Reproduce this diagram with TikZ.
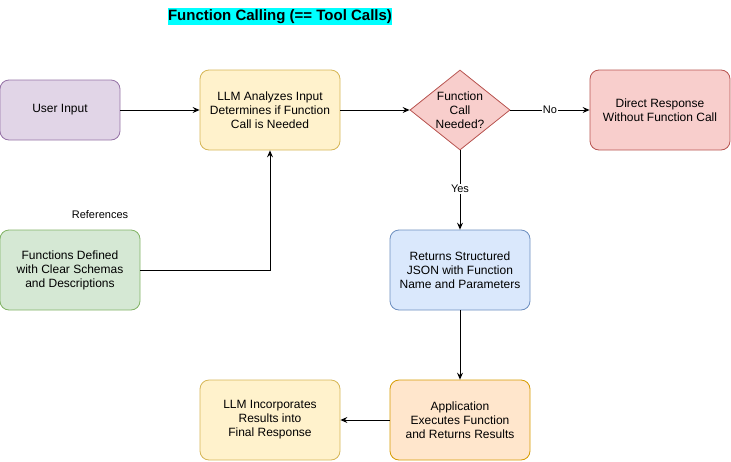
\documentclass[tikz,border=0pt]{standalone}
\usepackage{fontspec}
\setmainfont{Liberation Sans}
\usetikzlibrary{shapes.geometric,arrows.meta}
\definecolor{pfill}{HTML}{E1D5E7}\definecolor{pdraw}{HTML}{9673A6}
\definecolor{yfill}{HTML}{FFF2CC}\definecolor{ydraw}{HTML}{D6B656}
\definecolor{rfill}{HTML}{F8CECC}\definecolor{rdraw}{HTML}{B85450}
\definecolor{gfill}{HTML}{D5E8D4}\definecolor{gdraw}{HTML}{82B366}
\definecolor{bfill}{HTML}{DAE8FC}\definecolor{bdraw}{HTML}{6C8EBF}
\definecolor{ofill}{HTML}{FFE6CC}\definecolor{odraw}{HTML}{D79B00}
\definecolor{titlebg}{HTML}{00FFFF}
\begin{document}
\begin{tikzpicture}[x=1pt,y=-1pt,
  every node/.style={font=\fontsize{12}{14}\selectfont, align=center},
  box/.style={rectangle, rounded corners=9pt, line width=0.8pt, inner sep=0pt},
  wbox/.style={box, minimum width=140pt, minimum height=80pt},
  conn/.style={line width=0.9pt, -{Stealth[length=7pt,width=6pt,inset=2.5pt]}},
  lbl/.style={fill=white, inner sep=1pt, font=\fontsize{11}{13}\selectfont}]
\useasboundingbox (0,0) rectangle (731,461);
\node[fill=titlebg, inner sep=0pt, minimum width=224pt, minimum height=17pt, font=\fontsize{15}{17}\bfseries\selectfont] (title) at (280,16.5) {Function Calling (== Tool Calls)};
\node[box, fill=pfill, draw=pdraw, minimum width=120pt, minimum height=60pt] (user) at (60,110) {User Input};
\node[wbox, fill=yfill, draw=ydraw] (llm) at (270,110) {LLM Analyzes Input\\Determines if Function\\Call is Needed};
\node[diamond, aspect=1.25, fill=rfill, draw=rdraw, line width=0.8pt, minimum width=100pt, minimum height=80pt, inner sep=0pt] (dec) at (460,110) {Function\\Call\\Needed?};
\node[wbox, fill=rfill, draw=rdraw] (direct) at (660,110) {Direct Response\\Without Function Call};
\node[wbox, fill=gfill, draw=gdraw] (funcs) at (70,270) {Functions Defined\\with Clear Schemas\\and Descriptions};
\node[font=\fontsize{11}{13}\selectfont] (refs) at (100,215) {References};
\node[wbox, fill=bfill, draw=bdraw] (json) at (460,270) {Returns Structured\\JSON with Function\\Name and Parameters};
\node[wbox, fill=ofill, draw=odraw] (app) at (460,420) {Application\\Executes Function\\and Returns Results};
\node[wbox, fill=yfill, draw=ydraw] (final) at (270,420) {LLM Incorporates\\Results into\\Final Response};
\draw[conn] (user) -- (llm);
\draw[conn] (llm) -- (dec);
\draw[conn] (dec) -- node[lbl] {No} (direct);
\draw[conn] (dec) -- node[lbl, pos=0.49] {Yes} (json);
\draw[conn] (funcs.east) -| (llm.south);
\draw[conn] (json) -- (app);
\draw[conn] (app) -- (final);
\end{tikzpicture}
\end{document}
